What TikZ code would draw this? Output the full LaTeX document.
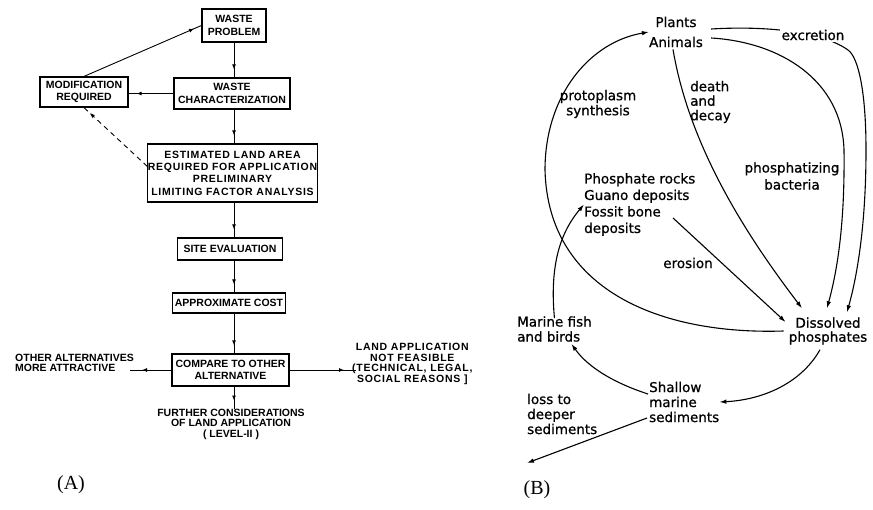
\documentclass[tikz,border=0pt]{standalone}
\usepackage{fontspec}
\setmainfont{Liberation Serif}
\newfontfamily\capsfont{Liberation Sans}
\newfontfamily\capswide[LetterSpace=7]{Liberation Sans}
\newfontfamily\letterfont[FakeBold=0.8]{DejaVu Sans}
\usetikzlibrary{arrows.meta,decorations.markings,calc}

\begin{document}
\begin{tikzpicture}[x=1pt,y=-1pt,
  box/.style={draw, line width=1.2pt, inner sep=0pt, align=center,
    font=\capsfont\bfseries\fontsize{10.5}{12.5}\selectfont},
  capnote/.style={inner sep=0pt,
    font=\capsfont\bfseries\fontsize{10.5}{10.5}\selectfont},
  flow/.style={line width=0.9pt, postaction={decorate},
    decoration={markings, mark=at position -8pt with {\arrow{Latex[length=5pt,width=4pt]}}}},
  note/.style={inner sep=0pt, font=\letterfont\fontsize{13.5}{15}\selectfont},
  cyc/.style={line width=1.1pt, -{Latex[length=7pt,width=4.5pt]}},
  panel/.style={inner sep=0pt, font=\fontsize{20}{24}\selectfont}
]
\useasboundingbox[fill=white] (0,0) rectangle (873,509);

% ---------------- (A) land application flow chart ----------------
\node[box, minimum width=64pt,  minimum height=33pt] (wp)  at (234,25.5) {WASTE\\PROBLEM};
\node[box, minimum width=116pt, minimum height=31pt] (wc)  at (232,93.5) {WASTE\\CHARACTERIZATION};
\node[box, minimum width=88pt,  minimum height=30pt] (mr)  at (84,92)    {MODIFICATION\\REQUIRED};
\node[box, minimum width=169pt, minimum height=58pt,
      font=\capswide\bfseries\fontsize{10.5}{12.3}\selectfont] (ela) at (232.5,173)
  {ESTIMATED LAND AREA\\REQUIRED FOR APPLICATION\\PRELIMINARY\\LIMITING FACTOR ANALYSIS};
\node[box, minimum width=105pt, minimum height=22pt] (se)  at (230,249)  {SITE EVALUATION};
\node[box, minimum width=113pt, minimum height=20pt] (ac)  at (229,303)  {APPROXIMATE COST};
\node[box, minimum width=117pt, minimum height=32pt] (cmp) at (230.5,370) {COMPARE TO OTHER\\ALTERNATIVE};

\node[capnote, align=left, anchor=west] (other) at (15,363) {OTHER ALTERNATIVES\\MORE ATTRACTIVE};
\node[capnote, align=center, anchor=west, font=\capswide\bfseries\fontsize{10.5}{10.8}\selectfont]
  (land) at (352,364) {LAND APPLICATION\\NOT FEASIBLE\\(TECHNICAL, LEGAL,\\SOCIAL REASONS ]};
\node[capnote, align=center] (further) at (231,424)
  {FURTHER CONSIDERATIONS\\OF LAND APPLICATION\\( LEVEL-II )};

\draw[flow] (wp.south) -- (wp.south |- wc.north);
\draw[flow] (wc.west) -- (wc.west -| mr.east);
\draw[flow] (mr.north) -- (wp.west);
\draw[flow, dashed, dash pattern=on 5pt off 4pt] ($(ela.north west)+(0,23)$) -- (mr.south);
\draw[flow] (wc.south -| wp.south) -- (ela.north -| wp.south);
\draw[flow] (ela.south -| wp.south) -- (se.north -| wp.south);
\draw[flow] (se.south -| wp.south) -- (ac.north -| wp.south);
\draw[flow] (ac.south -| wp.south) -- (cmp.north -| wp.south);
\draw[flow, shorten >=-4pt] (cmp.west) -- (cmp.west -| other.east);
\draw[flow, shorten >=-4pt] (cmp.east) -- (cmp.east -| land.west);
\draw[flow] (cmp.south -| wp.south) -- (further.north -| wp.south);

\node[panel] (pa) at (71,485) {(A)};

% ---------------- (B) phosphorus cycle ----------------
\node[note, align=center] (plants) at (676,32) {Plants\\[5pt]Animals};
\node[note, align=center] (proto) at (598,104) {protoplasm\\synthesis};
\node[note, align=left, anchor=west, font=\letterfont\fontsize{13.5}{14.5}\selectfont]
  (death) at (690,102) {death\\and\\decay};
\node[note, align=center, font=\letterfont\fontsize{13.5}{17}\selectfont]
  (bact) at (792,176) {phosphatizing\\bacteria};
\node[note, align=left, anchor=north west, font=\letterfont\fontsize{13.5}{16.5}\selectfont]
  (rocks) at (584,173) {Phosphate rocks\\Guano deposits\\Fossit bone\\deposits};
\node[note] (eros) at (688,263) {erosion};
\node[note, align=left, anchor=west] (marine) at (517,329) {Marine fish\\and birds};
\node[note, align=center, inner sep=5pt, font=\letterfont\fontsize{13.5}{14}\selectfont]
  (dis) at (828,331) {Dissolved\\phosphates};
\node[note, align=left, anchor=west] (shallow) at (649,402) {Shallow\\marine\\sediments};
\node[note, align=left, anchor=west] (loss) at (527,414) {loss to\\deeper\\sediments};
\coordinate (deep) at (527,463);

% protoplasm synthesis: dissolved phosphates back up to the organisms
\draw[cyc] (dis.west) .. controls (660,335) and (548,290) .. (545,170)
  .. controls (545,95) and (590,42) .. (plants.west);
% death and decay
\draw[cyc] ($(plants.south)+(-3,2)$) .. controls (690,150) and (750,240) .. ($(dis.north)+(-26,-4)$);
% excretion (outer) and phosphatizing bacteria (inner)
\draw[cyc] ($(plants.east)+(8,-3)$) .. controls (760,26) and (820,30) .. (848,50)
  .. controls (858,57) and (866,90) .. (866,150)
  .. controls (866,230) and (856,280) .. ($(dis.north)+(19,0)$);
\draw[cyc] ($(plants.east)+(8,6)$) .. controls (780,42) and (842,80) .. (844,150)
  .. controls (845,230) and (836,275) .. ($(dis.north)+(-1,-4)$);
\node[note, fill=white, inner sep=2pt] (excr) at (813,35) {excretion};
% marine fish and birds to the phosphate deposits
\draw[cyc] ($(marine.north)+(0,2)$) .. controls (550,270) and (558,235) .. (rocks.west);
% erosion
\draw[cyc] ($(rocks.south west)+(89,-18)$) -- ($(dis.west)+(2,-9)$);
% dissolved phosphates settle into shallow sediments
\draw[cyc] ($(dis.south)+(-8,0)$) .. controls (800,385) and (760,400) .. (shallow.east);
% shallow sediments feed marine fish and birds
\draw[cyc] ($(shallow.west)+(-1,-8)$) .. controls (620,385) and (590,370) .. ($(marine.south)+(17,2)$);
% loss to deeper sediments
\draw[cyc] ($(shallow.west)+(-2,16)$) -- (deep);

\node[panel] (pb) at (537,490) {(B)};
\end{tikzpicture}
\end{document}
